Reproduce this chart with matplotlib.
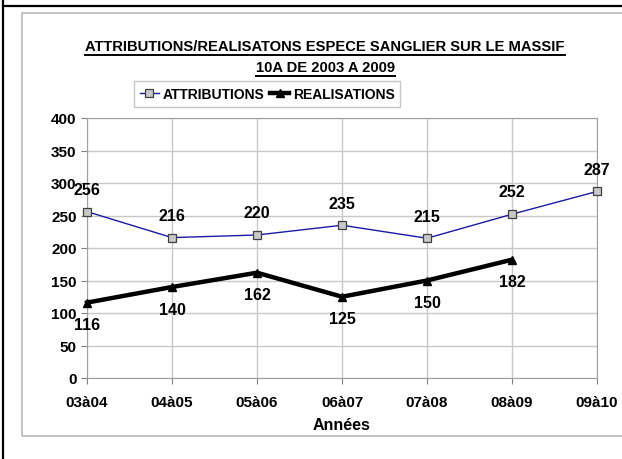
import matplotlib.pyplot as plt
from matplotlib.lines import Line2D
from matplotlib.patches import Rectangle

# donnees
saisons = ['03à04', '04à05', '05à06', '06à07', '07à08', '08à09', '09à10']
attributions = [256, 216, 220, 235, 215, 252, 287]
realisations = [116, 140, 162, 125, 150, 182]

police = ['Liberation Sans', 'DejaVu Sans']
plt.rcParams['font.family'] = police
plt.rcParams['font.weight'] = 'bold'

W, H = 622, 460
fig = plt.figure(figsize=(6.22, 4.6), dpi=100)

def fx(px):
    return px / W

def fy(py):
    return 1 - py / H

# cadre du tableau (noir) et cadre du graphique (gris)
fig.add_artist(Line2D([fx(3), fx(3)], [0, 1], color='black', lw=1.6))
fig.add_artist(Line2D([fx(3), 1], [fy(6.5), fy(6.5)], color='black', lw=1.6))
fig.add_artist(Rectangle((fx(22), fy(437)), 1.1, fy(14) - fy(437),
                         fill=False, edgecolor='#b8b8b8', lw=1.2))

ax = fig.add_axes([fx(87), fy(379), fx(597) - fx(87), fy(119) - fy(379)])
x = list(range(len(saisons)))

ax.plot(x, attributions, color='#1a1aa6', lw=1.0, marker='s', markersize=6,
        markerfacecolor='#c8c8c8', markeredgecolor='#404040', markeredgewidth=0.9,
        label='ATTRIBUTIONS', zorder=3, clip_on=False)
ax.plot(x[:len(realisations)], realisations, color='black', lw=3.2, marker='^',
        markersize=6, label='REALISATIONS', zorder=3, clip_on=False)

for i, v in enumerate(attributions):
    ax.annotate(str(v), (i, v), xytext=(0, 16), textcoords='offset points',
                ha='center', va='center', fontsize=11.5, fontweight='bold')
for i, v in enumerate(realisations):
    ax.annotate(str(v), (i, v), xytext=(0, -16), textcoords='offset points',
                ha='center', va='center', fontsize=11.5, fontweight='bold')

ax.set_xlim(0, 6)
ax.set_ylim(0, 400)
ax.set_yticks(range(0, 401, 50))
ax.set_xticks(x)
ax.set_xticklabels(saisons)
ax.tick_params(axis='both', labelsize=11, length=4, color='#808080')
ax.tick_params(axis='x', pad=8)
for lab in ax.get_xticklabels() + ax.get_yticklabels():
    lab.set_fontweight('bold')
ax.grid(True, color='#c8c8c8', lw=1)
ax.set_axisbelow(True)
for s in ax.spines.values():
    s.set_color('#a0a0a0')
ax.set_xlabel('Années', fontsize=11.5, fontweight='bold', labelpad=6)

# titre souligne
titres = [('ATTRIBUTIONS/REALISATONS ESPECE SANGLIER SUR LE MASSIF', 47),
          ('10A DE 2003 A 2009', 68)]
fig.canvas.draw()
rend = fig.canvas.get_renderer()
for txt, py in titres:
    t = fig.text(fx(325), fy(py), txt, ha='center', va='center',
                 fontsize=10.6, fontweight='bold')
    bb = t.get_window_extent(rend)
    yl = bb.y0 - 1.5
    fig.add_artist(Line2D([bb.x0 / W, bb.x1 / W], [yl / H, yl / H],
                          color='black', lw=1.4))

leg = fig.legend(loc='center', bbox_to_anchor=(fx(267), fy(95)), ncol=2,
                 fancybox=False, edgecolor='#b8b8b8', fontsize=10,
                 handlelength=1.4, columnspacing=0.4, handletextpad=0.25,
                 borderpad=0.4)
leg.get_frame().set_linewidth(1.0)
for t in leg.get_texts():
    t.set_fontweight('bold')

fig.savefig('out.png', dpi=100)
